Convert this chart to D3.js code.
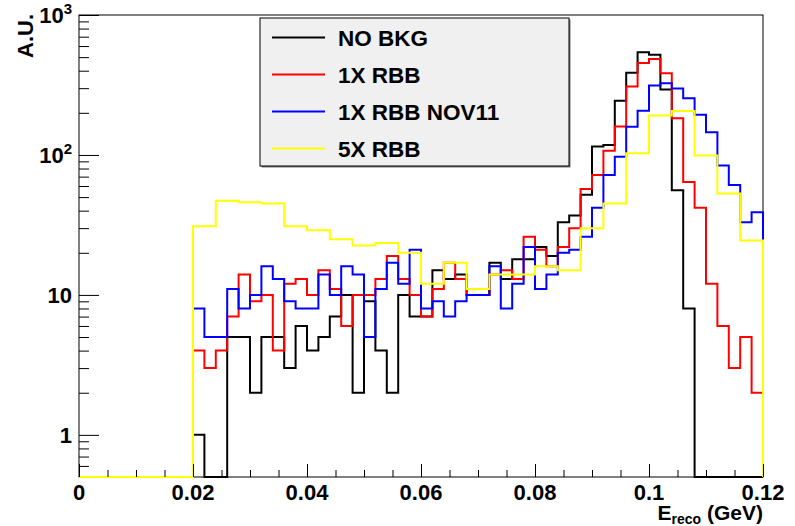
<!DOCTYPE html>
<html>
<head>
<meta charset="utf-8">
<script src="https://cdn.jsdelivr.net/npm/d3@7"></script>
<style>
  html, body { margin: 0; padding: 0; background: #fff; }
  svg { display: block; }
  text { font-family: "Liberation Sans", Arial, Helvetica, sans-serif; font-weight: bold; fill: #000; }
</style>
</head>
<body>
<svg id="chart" width="795" height="526"></svg>
<script>
// Reconstructed energy spectra, 60 bins of 2 MeV between 0 and 0.12 GeV
const binWidth = 0.002;
const xMin = 0, xMax = 0.12;
const yMin = 0.5, yMax = 1000;

const noBkg = [
  0, 0, 0, 0, 0, 0, 0, 0, 0, 0,
  1, 0, 0, 5, 5, 2, 5, 5, 3, 6,
  4, 5, 7, 10, 2, 9, 4, 2, 10, 7,
  7, 15, 13, 14, 10, 10, 17, 13, 18, 18,
  22, 19, 33, 37, 52, 115, 118, 244, 387, 541,
  521, 293, 56, 8, 0, 0, 0, 0, 0, 0
];
const rbb1x = [
  0, 0, 0, 0, 0, 0, 0, 0, 0, 0,
  4, 3, 4, 7, 14, 9, 10, 4, 12, 13,
  10, 15, 11, 6, 10, 10, 13, 19, 13, 10,
  7, 11, 17, 13, 10, 10, 14, 15, 13, 26,
  21, 16, 22, 30, 57, 72, 107, 160, 309, 454,
  485, 383, 183, 64, 42, 12, 6, 3, 5, 2
];
const rbbNov11 = [
  0, 0, 0, 0, 0, 0, 0, 0, 0, 0,
  8, 5, 5, 11, 8, 10, 16, 13, 9, 8,
  8, 14, 10, 16, 14, 5, 11, 17, 12, 21,
  8, 9, 7, 9, 10, 10, 16, 8, 12, 22,
  11, 14, 20, 21, 26, 42, 72, 97, 159, 207,
  313, 325, 299, 254, 194, 145, 84, 61, 33, 39
];
const rbb5x = [
  0, 0, 0, 0, 0, 0, 0, 0, 0, 0,
  31, 31, 47, 47, 46, 46, 45, 45, 31, 31,
  29, 29, 25, 25, 22.5, 22.5, 23.5, 23.5, 20, 20,
  12, 12, 17, 17, 11, 11, 14, 14, 14, 14,
  16, 16, 15, 15, 30, 30, 45, 45, 103, 103,
  191, 191, 206, 206, 99, 99, 53, 53, 24.5, 24.5
];

const seriesNames = ["NO BKG", "1X RBB", "1X RBB NOV11", "5X RBB"];
const seriesColors = ["#000000", "#ff0000", "#0000ff", "#ffff00"];
const seriesValues = [noBkg, rbb1x, rbbNov11, rbb5x];

const xMajorTicks = [0, 0.02, 0.04, 0.06, 0.08, 0.1, 0.12];
const xTickLabels = ["0", "0.02", "0.04", "0.06", "0.08", "0.1", "0.12"];
const xMinorTicks = d3.range(0, 0.1201, 0.005).filter(v => !xMajorTicks.some(m => Math.abs(m - v) < 1e-9));
const yMajorTicks = [1, 10, 100, 1000];
const yTickLabels = [["1", ""], ["10", ""], ["10", "2"], ["10", "3"]];
const yMinorTicks = [0.6, 0.7, 0.8, 0.9]
  .concat(d3.range(2, 10))
  .concat(d3.range(20, 100, 10))
  .concat(d3.range(200, 1000, 100));

const svg = d3.select("#chart");
const frame = { left: 79, right: 763, top: 15, bottom: 477 };

const x = d3.scaleLinear().domain([xMin, xMax]).range([frame.left, frame.right]);
const y = d3.scaleLog().domain([yMin, yMax]).range([frame.bottom, frame.top]);

// frame
svg.append("rect")
  .attr("x", frame.left).attr("y", frame.top)
  .attr("width", frame.right - frame.left).attr("height", frame.bottom - frame.top)
  .attr("fill", "none").attr("stroke", "#000").attr("stroke-width", 1);

// histogram outlines (empty bins drop to the bottom of the log axis)
function histPoints(vals) {
  const pts = [[xMin, yMin]];
  vals.forEach((v, i) => {
    const lo = xMin + i * binWidth, hi = lo + binWidth;
    const vv = Math.max(v, yMin);
    pts.push([lo, vv], [hi, vv]);
  });
  pts.push([xMax, yMin]);
  return pts;
}
const line = d3.line().x(d => x(d[0])).y(d => y(d[1]));

seriesValues.forEach((vals, i) => {
  svg.append("path")
    .attr("d", line(histPoints(vals)))
    .attr("fill", "none")
    .attr("stroke", seriesColors[i])
    .attr("stroke-width", 2)
    .attr("stroke-linejoin", "miter");
});

// axes: ticks point into the frame
function styleAxis(g) {
  g.select(".domain").remove();
  g.selectAll(".tick line").attr("stroke", "#000").attr("stroke-width", 1);
  g.selectAll(".tick text").remove();
}
svg.append("g").attr("transform", `translate(${frame.left},0)`)
  .call(d3.axisLeft(y).tickValues(yMajorTicks).tickSize(-20).tickSizeOuter(0).tickFormat(""))
  .call(styleAxis);
svg.append("g").attr("transform", `translate(${frame.left},0)`)
  .call(d3.axisLeft(y).tickValues(yMinorTicks).tickSize(-10).tickSizeOuter(0).tickFormat(""))
  .call(styleAxis);
svg.append("g").attr("transform", `translate(0,${frame.bottom})`)
  .call(d3.axisBottom(x).tickValues(xMajorTicks).tickSize(-13).tickSizeOuter(0).tickFormat(""))
  .call(styleAxis);
svg.append("g").attr("transform", `translate(0,${frame.bottom})`)
  .call(d3.axisBottom(x).tickValues(xMinorTicks).tickSize(-7).tickSizeOuter(0).tickFormat(""))
  .call(styleAxis);

// tick labels
svg.append("g").selectAll("text").data(xMajorTicks).join("text")
  .attr("x", d => x(d)).attr("y", 500)
  .attr("text-anchor", "middle").attr("font-size", 22)
  .text((d, i) => xTickLabels[i]);

const yLab = svg.append("g").selectAll("text").data(yMajorTicks).join("text")
  .attr("x", 72).attr("y", d => y(d) + 8)
  .attr("text-anchor", "end").attr("font-size", 22);
yLab.each(function(d, i) {
  const t = d3.select(this);
  const [base, exp] = yTickLabels[i];
  t.append("tspan").text(base);
  if (exp) t.append("tspan").attr("font-size", 15).attr("dy", -9).text(exp);
});

// axis titles
svg.append("text")
  .attr("transform", "translate(33,14) rotate(-90)")
  .attr("text-anchor", "end").attr("font-size", 22)
  .text("A.U.");
const xt = svg.append("text")
  .attr("x", 763).attr("y", 520)
  .attr("text-anchor", "end").attr("font-size", 21);
xt.append("tspan").text("E");
xt.append("tspan").attr("font-size", 14).attr("dy", 3.5).text("reco");
xt.append("tspan").attr("dy", -3.5).text(" (GeV)");

// legend
const lg = { x: 260, y: 18, w: 309, h: 148 };
svg.append("rect").attr("x", lg.x + 1.5).attr("y", lg.y + 1.5).attr("width", lg.w).attr("height", lg.h)
  .attr("fill", "#777");
svg.append("rect").attr("x", lg.x).attr("y", lg.y).attr("width", lg.w).attr("height", lg.h)
  .attr("fill", "#f0f0f0").attr("stroke", "#000").attr("stroke-width", 1);
const rowH = lg.h / seriesNames.length;
seriesNames.forEach((name, i) => {
  const yc = lg.y + rowH * (i + 0.5) + 1;
  svg.append("line").attr("x1", 272).attr("x2", 325).attr("y1", yc).attr("y2", yc)
    .attr("stroke", seriesColors[i]).attr("stroke-width", 2);
  svg.append("text").attr("x", 338).attr("y", yc + 8).attr("font-size", 22.5).text(name);
});
</script>
</body>
</html>
